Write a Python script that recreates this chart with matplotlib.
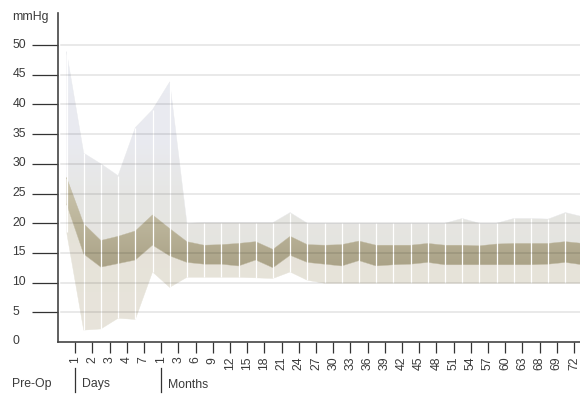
import numpy as np
import matplotlib
matplotlib.use("Agg")
import matplotlib.pyplot as plt
from matplotlib.colors import LinearSegmentedColormap
from matplotlib.transforms import (blended_transform_factory, offset_copy,
                                   ScaledTranslation)

plt.rcParams["font.family"] = ["Liberation Sans", "DejaVu Sans"]

# Follow-up points: Pre-Op, then days, then months
period_names = ["Pre-Op", "Days", "Months"]
tick_labels = ["1", "2", "3", "4", "7",
               "1", "3", "6", "9", "12", "15", "18", "21", "24", "27", "30",
               "33", "36", "39", "42", "45", "48", "51", "54", "57", "60",
               "63", "68", "69", "72"]
y_ticks = [0, 5, 10, 15, 20, 25, 30, 35, 40, 45, 50]
y_unit = "mmHg"

# Pressure envelopes (mmHg), one value per time point incl. Pre-Op and the trailing edge
upper_max = [48.9, 31.8, 30.0, 28.0, 36.1, 39.1, 43.8, 20.0, 20.1, 20.1, 20.1,
             20.1, 20.1, 21.8, 20.0, 20.0, 20.0, 20.0, 20.0, 20.0, 20.0, 20.0,
             20.0, 20.8, 20.0, 20.0, 20.8, 20.8, 20.7, 21.8, 21.1]
band_high = [27.7, 19.9, 17.1, 17.8, 18.7, 21.4, 19.1, 16.9, 16.3, 16.4, 16.6,
             16.9, 15.6, 17.8, 16.4, 16.3, 16.4, 17.0, 16.3, 16.3, 16.3, 16.6,
             16.3, 16.3, 16.2, 16.5, 16.6, 16.6, 16.6, 16.9, 16.6]
band_low = [23.3, 14.8, 12.6, 13.2, 13.8, 16.3, 14.5, 13.4, 13.1, 13.1, 12.8,
            13.8, 12.5, 14.6, 13.4, 13.1, 12.8, 13.7, 12.8, 13.0, 13.1, 13.4,
            13.0, 13.0, 13.0, 13.0, 13.0, 13.0, 13.1, 13.4, 13.0]
lower_min = [18.6, 2.0, 2.2, 4.0, 3.8, 11.8, 9.2, 10.9, 10.9, 10.9, 10.9,
             10.8, 10.7, 11.8, 10.4, 9.9, 9.9, 9.9, 9.9, 9.9, 9.9, 9.9,
             9.9, 9.9, 9.9, 9.9, 9.9, 9.9, 9.9, 9.9, 9.9]

W, H = 580, 394
fig = plt.figure(figsize=(W / 100, H / 100), dpi=100)
ax = fig.add_axes([57.7 / W, 52 / H, 522.3 / W, 329 / H])

x = np.arange(len(upper_max))
XMIN, XMAX, YMIN, YMAX = -0.512, 29.85, 0, 55.4
FS = 8.8


def gradient_band(y1, y2, stops, zorder):
    """Fill between y1 and y2 with a vertical colour gradient given as (value, colour)."""
    poly = ax.fill_between(x, y1, y2, facecolor="none", edgecolor="none")
    lo, hi = stops[0][0], stops[-1][0]
    cmap = LinearSegmentedColormap.from_list(
        "g", [((v - lo) / (hi - lo), c) for v, c in stops])
    grad = np.linspace(0, 1, 256).reshape(-1, 1)
    img = ax.imshow(grad, extent=[x[0], x[-1], lo, hi], origin="lower",
                    aspect="auto", cmap=cmap, zorder=zorder, interpolation="bilinear")
    img.set_clip_path(poly.get_paths()[0], transform=ax.transData)
    # thin outline keeps the clipped gradient edge smooth
    ax.fill_between(x, y1, y2, facecolor="none", edgecolor=cmap(0.5),
                    lw=0.3, zorder=zorder)


gradient_band(band_high, upper_max,
              [(12, "#e4e3de"), (24, "#e6e6e3"), (34, "#e9eaf0"), (50, "#eaecf2")], 1)
gradient_band(lower_min, band_low,
              [(0, "#e8e4db"), (25, "#e5e2d8")], 1)
gradient_band(band_low, band_high,
              [(12, "#a8a085"), (20, "#bcb59b"), (28, "#ccc6af")], 1.5)

# white separators at every time point
for xi, lo, hi in zip(x, lower_min, upper_max):
    ax.plot([xi, xi], [lo, hi], color="white", lw=0.9, zorder=2,
            solid_capstyle="butt")

# horizontal guide lines
for yv in y_ticks[1:]:
    ax.axhline(yv, xmin=0.007, xmax=1, color="black", alpha=0.11, lw=1.1, zorder=3)

ax.set_xlim(XMIN, XMAX)
ax.set_ylim(YMIN, YMAX)

for side in ("top", "right"):
    ax.spines[side].set_visible(False)
for side in ("left", "bottom"):
    ax.spines[side].set_color("#444444")
    ax.spines[side].set_linewidth(1.2)
    ax.spines[side].set_zorder(4)

text_color = "#3a3a3a"

# y axis: long ticks, left aligned labels sitting just above their tick
ax.set_yticks(y_ticks)
ax.set_yticklabels([str(v) for v in y_ticks], fontsize=FS, color=text_color)
ax.tick_params(axis="y", length=19, width=0.9, color="#333333", pad=13.6)
lift = ScaledTranslation(0, 2 / 100, fig.dpi_scale_trans)
for lab in ax.get_yticklabels():
    lab.set_horizontalalignment("left")
    lab.set_transform(lab.get_transform() + lift)
ax.yaxis.get_major_ticks()[0].tick1line.set_visible(False)

# x axis: ticks centred between time points
xt = np.arange(len(tick_labels)) + 0.5
ax.set_xticks(xt)
ax.set_xticklabels(tick_labels, rotation=90, fontsize=FS, color=text_color)
ax.tick_params(axis="x", length=8, width=0.9, color="#333333", pad=2.6)

fig.text(12 / W, 1 - 17 / H, y_unit, fontsize=FS, color=text_color,
         ha="left", va="center")

# period captions with separators
trans = blended_transform_factory(ax.transData, fig.transFigure)
fig.text(12 / W, 1 - 384.5 / H, period_names[0], fontsize=FS,
         color=text_color, ha="left", va="center")
for pos, name in zip([xt[0], xt[5]], period_names[1:]):
    ax.plot([pos, pos], [1 - 368 / H, 1 - 392 / H], transform=trans,
            color="#333333", lw=0.9, clip_on=False)
    ax.text(pos, 1 - 384.5 / H, name, fontsize=FS, color=text_color,
            ha="left", va="center",
            transform=offset_copy(trans, fig=fig, x=6.5, units="dots"))

fig.savefig("out.png", dpi=100)
